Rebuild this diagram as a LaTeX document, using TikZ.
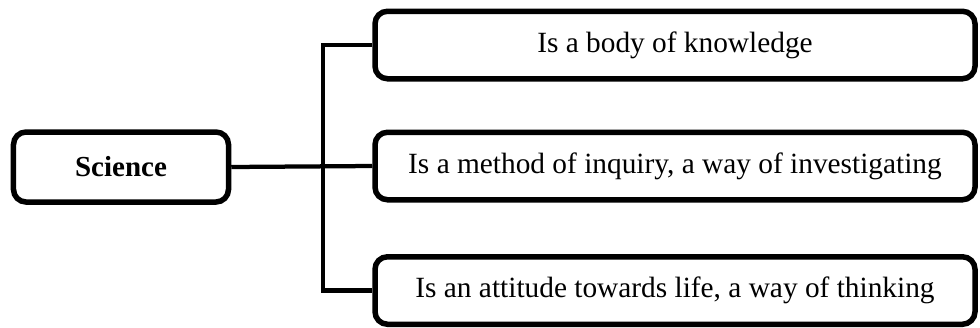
\documentclass[tikz,border=0pt]{standalone}
\usepackage{fontspec}
\setmainfont{Liberation Serif}
\usetikzlibrary{positioning,calc}

\begin{document}
\begin{tikzpicture}[
      topic/.style={draw=black,line width=0.11cm,rounded corners=0.25cm,
                    fill=white,minimum width=4.3cm,minimum height=1.4cm,
                    inner sep=2pt,font=\fontsize{16.5}{20}\selectfont\bfseries},
      facet/.style={draw=black,line width=0.11cm,rounded corners=0.25cm,
                    fill=white,minimum width=12cm,minimum height=1.35cm,
                    inner sep=2pt,font=\fontsize{16.7}{20}\selectfont},
      link/.style={line width=0.085cm,black},
    ]
    \useasboundingbox (0,0) rectangle (19.6,6.54);
    \node[topic] (sci) at (2.42,3.2) {Science};
    \node[facet] (know)  at (13.5,5.64) {Is a body of knowledge};
    \node[facet] (inq)   at (13.5,3.22) {Is a method of inquiry, a way of investigating};
    \node[facet] (attit) at (13.5,0.73) {Is an attitude towards life, a way of thinking};
    \coordinate (spine) at (6.46,0);

    \draw[link] (sci.east) -- (inq.west);
    \draw[link] (know.west) -| (spine |- attit.west) -- (attit.west);
  \end{tikzpicture}
\end{document}
